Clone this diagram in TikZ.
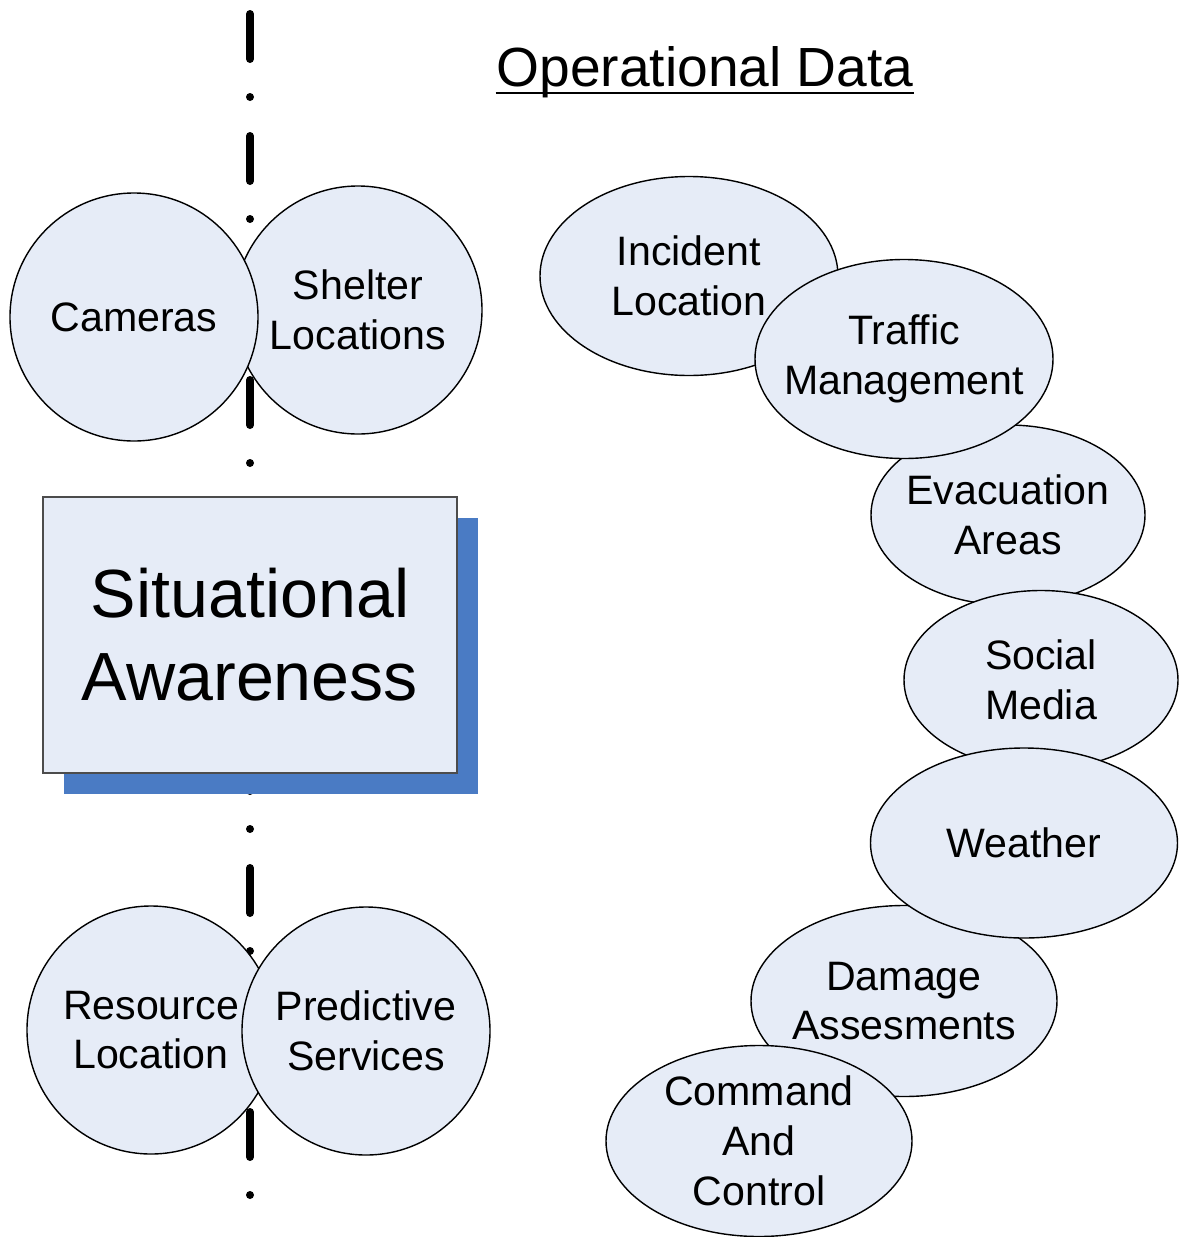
\documentclass[tikz,border=0pt]{standalone}
\usepackage{fontspec}
\setmainfont{Liberation Sans}
\usetikzlibrary{shapes.geometric,shadows}
\definecolor{bubblefill}{RGB}{230,236,247}
\definecolor{shadowblue}{RGB}{74,123,196}
\tikzset{
	bodyfont/.style = {font=\fontsize{11.7}{14.2}\selectfont},
	bubble/.style =
    {
			ellipse, draw, fill = bubblefill, line width = 0.4pt,
			inner sep = -8pt, align = center, bodyfont
    }
}

\begin{document}
\begin{tikzpicture}[x=0.1mm,y=-0.1mm]
    \tikzset{round node/.style={circle,draw,fill=bubblefill,line width=0.4pt,minimum size=24.8mm,inner sep=-8pt,align=center,bodyfont}}
    \tikzset{sabox/.style={rectangle,draw=black!70,fill=bubblefill,line width=0.5pt,minimum width=41.4mm,minimum height=27.6mm,align=center,font=\fontsize{19.4}{23.6}\selectfont,drop shadow={shadow xshift=2.1mm,shadow yshift=-2.1mm,fill=shadowblue,opacity=1}}}
    \tikzset{axis line/.style={line width=0.8mm,line cap=round,dash pattern=on 4.5mm off 3.8mm on 0mm off 3.9mm}}
    \useasboundingbox (0,0) rectangle (1180,1237);

    % Divider
    \coordinate (axtop) at (250,14);
    \coordinate (axbot) at (250,1196);
    \draw [axis line] (axtop) -- (axbot);

    % Title
    \node (optitle) [anchor=base, inner sep=0pt, font=\fontsize{15.7}{19}\selectfont] at (705,86) {Operational Data};
    \draw [line width=0.85pt] ([yshift=-0.7mm]optitle.base west) -- ([yshift=-0.7mm]optitle.base east);

    % Left side
    \node (shelter) [round node] at (358,310) {Shelter\\Locations};
    \node (cameras) [round node] at (134,317) {Cameras};
    \node (sa) [sabox] at (250,635) {Situational\\Awareness};
    \node (resource) [round node] at (151,1030) {Resource\\Location};
    \node (predictive) [round node] at (366,1031) {Predictive\\Services};

    % Operational data
    \node (evacuation) [bubble, minimum width=27.4mm, minimum height=18mm] at (1008,515) {Evacuation\\Areas};
    \node (incident) [bubble, minimum width=29.8mm, minimum height=19.9mm] at (689,276) {Incident\\Location};
    \node (traffic) [bubble, minimum width=29.8mm, minimum height=19.9mm] at (904,359) {Traffic\\Management};
    \node (social) [bubble, minimum width=27.4mm, minimum height=17.9mm] at (1041,680) {Social\\Media};
    \node (damage) [bubble, minimum width=30.6mm, minimum height=19.1mm] at (904,1001) {Damage\\Assesments};
    \node (weather) [bubble, minimum width=30.7mm, minimum height=19mm] at (1024,843) {Weather};
    \node (command) [bubble, minimum width=30.6mm, minimum height=19.1mm] at (759,1141) {Command\\And\\Control};
\end{tikzpicture}
\end{document}
